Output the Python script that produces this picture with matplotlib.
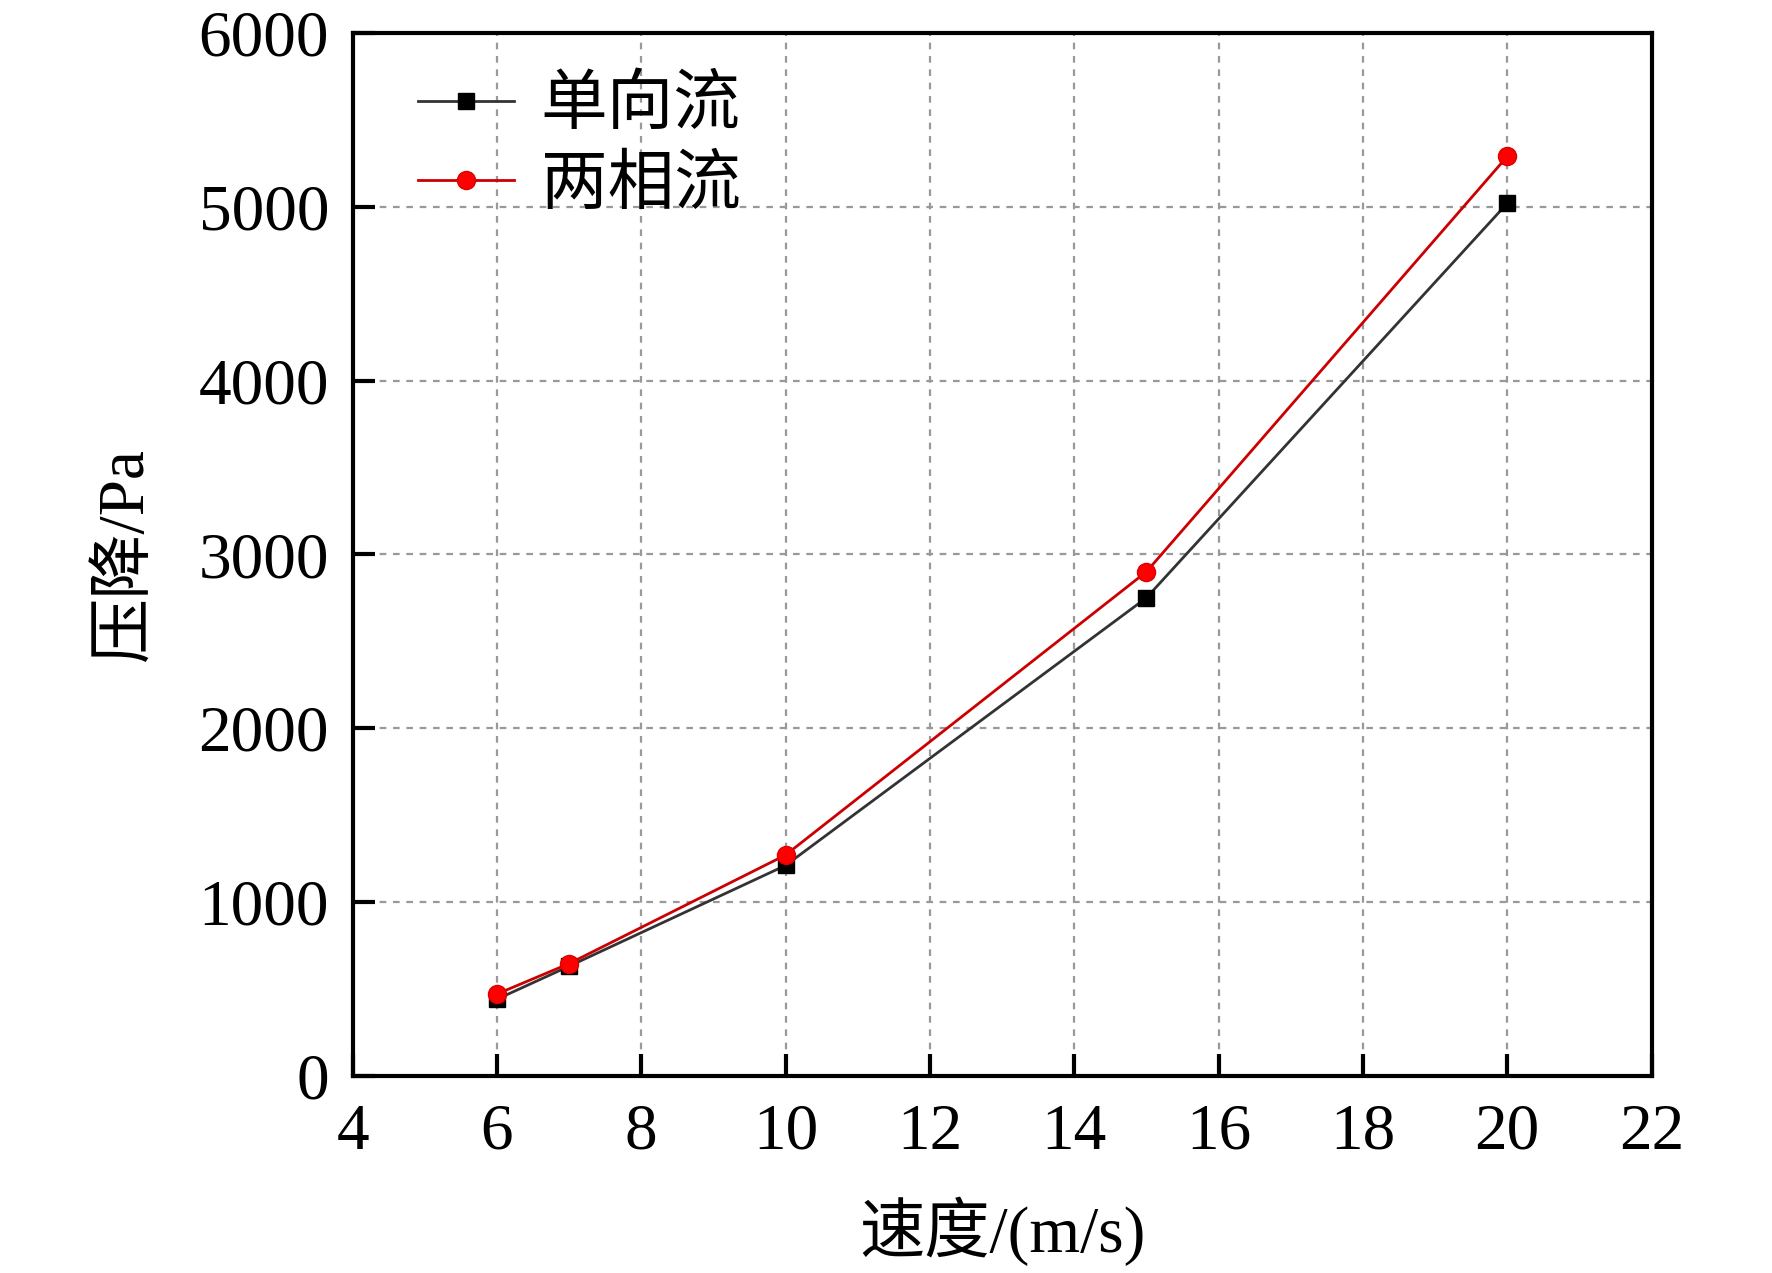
import matplotlib
matplotlib.use("Agg")
import matplotlib.pyplot as plt

# speed (m/s) vs pressure drop (Pa)
speed = [6, 7, 10, 15, 20]
single_phase = [440, 630, 1210, 2750, 5020]
two_phase = [470, 645, 1270, 2900, 5290]

xticks = [4, 6, 8, 10, 12, 14, 16, 18, 20, 22]
yticks = [0, 1000, 2000, 3000, 4000, 5000, 6000]

fam = ['Liberation Serif', 'Noto Sans CJK SC', 'DejaVu Sans']
plt.rcParams['font.family'] = fam

fig = plt.figure(figsize=(17.72, 12.73), dpi=100)
ax = fig.add_axes([0.199, 0.155, 0.733, 0.819])

ax.plot(speed, single_phase, '-', color='#333333', lw=2.0,
        marker='s', ms=12, mfc='black', mec='black', label='单向流', zorder=3)
ax.plot(speed, two_phase, '-', color='#cc0000', lw=2.0,
        marker='o', ms=13, mfc='#ff0000', mec='#dd0000', label='两相流', zorder=4)

ax.set_xlim(4, 22)
ax.set_ylim(0, 6000)
ax.set_xticks(xticks)
ax.set_yticks(yticks)

ax.grid(True, color='#999999', ls=(0, (3, 3)), lw=1.6)
ax.set_axisbelow(True)

for s in ax.spines.values():
    s.set_linewidth(3)

ax.tick_params(direction='in', length=16, width=3, labelsize=47,
               top=False, right=False)
ax.tick_params(axis='x', pad=20)
ax.tick_params(axis='y', pad=17)

ax.set_xlabel('速度/(m/s)', fontsize=47, labelpad=24)
ax.set_ylabel('压降/Pa', fontsize=47, labelpad=30)

ax.legend(loc='upper left', bbox_to_anchor=(0.05, 0.958), frameon=False,
          fontsize=48, handlelength=1.45, handletextpad=0.4, labelspacing=0.27,
          borderpad=0, borderaxespad=0)

fig.savefig('out.png', dpi=100)
